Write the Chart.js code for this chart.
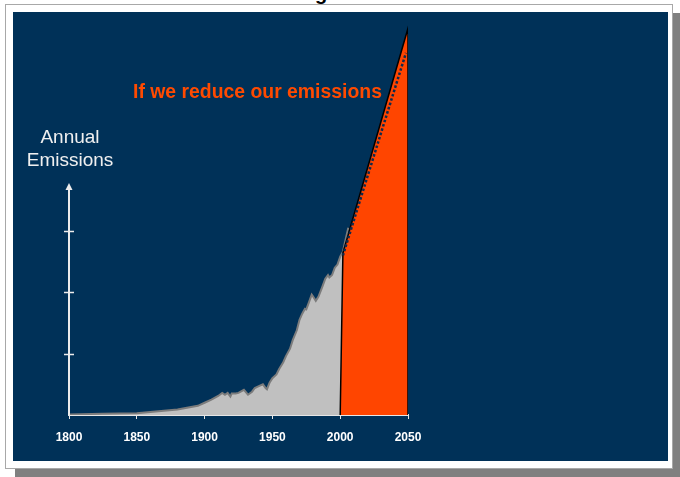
<!DOCTYPE html>
<html>
<head>
<meta charset="utf-8">
<script src="https://cdn.jsdelivr.net/npm/chart.js@4.4.1/dist/chart.umd.min.js"></script>
<style>
  html, body { margin: 0; padding: 0; background: #ffffff; width: 680px; height: 477px; overflow: hidden; font-family: "Liberation Sans", Arial, sans-serif; }
  #shadow { position: absolute; left: 15px; top: 13px; width: 665px; height: 464px; background: #808080; }
  #page { position: absolute; left: 5px; top: 4px; width: 666px; height: 463px; background: #ffffff; border: 1px solid #a8a8a8; }
  #panel { position: absolute; left: 13px; top: 12px; width: 655px; height: 449px; background: #003158; }
  #chartWrap { position: absolute; left: 0; top: 0; width: 680px; height: 477px; }
  .txt { position: absolute; white-space: nowrap; }
  #ylab { left: 20px; top: 125px; width: 100px; text-align: center; color: #f0f0f0; font-size: 19px; line-height: 23px; }
  #note { left: 133px; top: 80px; color: #ff4a00; font-weight: bold; font-size: 19.4px; line-height: 22px; }
  #ttl { left: 315px; top: -17px; color: #000; font-weight: bold; font-size: 20px; line-height: 20px; }
</style>
</head>
<body>
<div id="shadow"></div>
<div id="page"></div>
<div id="ttl" class="txt">g</div>
<div id="panel"></div>
<div id="chartWrap"><canvas id="c" width="680" height="477"></canvas></div>
<div id="ylab" class="txt">Annual<br>Emissions</div>
<div id="note" class="txt">If we reduce our emissions</div>
<script>
// ---- data ----
const xTickYears = [1800, 1850, 1900, 1950, 2000, 2050];
const yTickValues = [1, 2, 3];
const yAxisArrowTop = 3.78;

const histYears = [1800,1825,1850,1860,1870,1880,1890,1895,1900,1905,1910,1913,1915,1917,1919,1920,1923,1925,1929,1932,1935,1937,1940,1943,1945,1946,1948,1950,1953,1955,1958,1960,1963,1965,1968,1970,1972,1974,1975,1977,1979,1980,1982,1984,1987,1989,1991,1992,1994,1996,1998,2000,2002,2004,2006];
const histValues = [0.01,0.02,0.03,0.05,0.07,0.09,0.13,0.15,0.20,0.25,0.31,0.36,0.33,0.36,0.30,0.35,0.35,0.36,0.41,0.33,0.38,0.44,0.47,0.50,0.44,0.42,0.53,0.60,0.66,0.75,0.86,0.96,1.08,1.22,1.38,1.55,1.65,1.73,1.72,1.84,1.96,1.93,1.86,1.93,2.10,2.22,2.28,2.24,2.28,2.40,2.45,2.58,2.66,2.86,3.05];

const futureYears = [2000, 2002, 2050, 2050];
const futureValues = [0, 2.64, 6.30, 0];

const reducedYears = [2002, 2048.5];
const reducedValues = [2.60, 5.90];

function pts(xs, ys) { return xs.map((x, i) => ({ x: x, y: ys[i] })); }

const yAxisPlugin = {
  id: 'yAxisArrow',
  afterDatasetsDraw(chart) {
    const ctx = chart.ctx;
    const xs = chart.scales.x, ys = chart.scales.y;
    const x0 = Math.round(xs.getPixelForValue(xTickYears[0]));
    const yBase = ys.getPixelForValue(0);
    const yTop = ys.getPixelForValue(yAxisArrowTop);
    ctx.save();
    ctx.strokeStyle = '#ececec';
    ctx.fillStyle = '#ececec';
    ctx.lineWidth = 2;
    ctx.beginPath();
    ctx.moveTo(x0, yBase);
    ctx.lineTo(x0, yTop + 5);
    ctx.stroke();
    ctx.beginPath();
    ctx.moveTo(x0, yTop);
    ctx.lineTo(x0 - 3.5, yTop + 7);
    ctx.lineTo(x0 + 3.5, yTop + 7);
    ctx.closePath();
    ctx.fill();
    ctx.lineWidth = 1.5;
    yTickValues.forEach(v => {
      const y = Math.round(ys.getPixelForValue(v)) + 0.5;
      ctx.beginPath();
      ctx.moveTo(x0 - 5, y);
      ctx.lineTo(x0 + 5, y);
      ctx.stroke();
    });
    ctx.restore();
  }
};

new Chart(document.getElementById('c'), {
  type: 'scatter',
  data: {
    datasets: [
      {
        label: 'If we reduce our emissions',
        data: pts(reducedYears, reducedValues),
        showLine: true,
        borderColor: '#0d2a4d',
        borderWidth: 2.5,
        borderDash: [2.5, 2],
        pointRadius: 0,
        fill: false
      },
      {
        label: 'Projected',
        data: pts(futureYears, futureValues),
        showLine: true,
        borderColor: '#000000',
        borderWidth: 1.5,
        backgroundColor: '#ff4500',
        pointRadius: 0,
        fill: 'origin'
      },
      {
        label: 'Historical',
        data: pts(histYears, histValues),
        showLine: true,
        borderColor: '#7c7c7c',
        borderWidth: 2,
        backgroundColor: '#c0c0c0',
        pointRadius: 0,
        fill: 'origin'
      }
    ]
  },
  options: {
    responsive: false,
    animation: false,
    layout: { padding: { left: 69, right: 272, top: 16, bottom: 0 } },
    plugins: { legend: { display: false }, tooltip: { enabled: false } },
    scales: {
      x: {
        type: 'linear',
        min: 1800,
        max: 2050,
        afterFit: (s) => { s.height = 62; },
        afterBuildTicks: (s) => { s.ticks = xTickYears.map(v => ({ value: v })); },
        ticks: {
          color: '#ffffff',
          font: { family: '"Liberation Sans", Arial, sans-serif', size: 12, weight: 'bold' },
          padding: 11,
          maxRotation: 0,
          callback: (v) => String(v)
        },
        grid: { drawOnChartArea: false, drawTicks: true, tickLength: 4, color: '#e6e6e6', lineWidth: 1 },
        border: { display: true, color: '#e6e6e6', width: 2 }
      },
      y: {
        type: 'linear',
        min: 0,
        max: 6.5,
        display: false
      }
    }
  },
  plugins: [yAxisPlugin]
});
</script>
</body>
</html>
